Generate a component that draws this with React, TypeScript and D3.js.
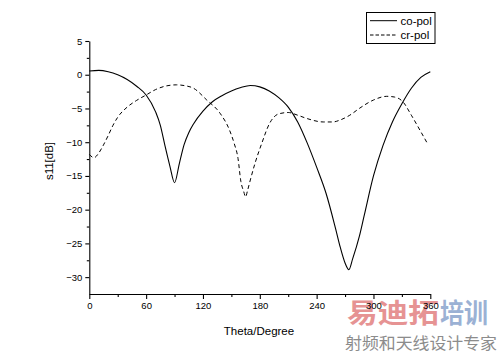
import * as d3 from 'd3';
import React from 'react';

// co-pol (solid)
const coTheta = [0, 10, 20, 30, 40, 50, 60, 70, 75, 80, 85, 90, 95, 100, 105, 110, 120, 130, 140, 150, 160, 170, 180, 190, 200, 210, 220, 230, 240, 250, 260, 265, 270, 274, 278, 285, 290, 300, 310, 320, 330, 340, 350, 360];
const coVals = [0.55, 0.65, 0.45, 0.0, -0.7, -1.7, -3.0, -5.5, -7.5, -10.6, -13.5, -16.0, -13.2, -10.4, -8.6, -7.3, -5.4, -4.0, -3.1, -2.4, -1.9, -1.6, -1.8, -2.4, -3.4, -4.8, -7.0, -10.1, -13.7, -17.6, -22.8, -25.6, -27.9, -28.9, -27.3, -24.0, -21.0, -15.0, -10.5, -7.0, -4.3, -2.0, -0.4, 0.45];

// cr-pol (dashed)
const crTheta = [0, 5, 10, 15, 20, 25, 30, 40, 50, 60, 70, 80, 92, 100, 110, 124, 138, 148, 153, 157, 160, 163, 165, 167, 170, 175, 182, 190, 200, 210, 220, 230, 247, 257, 265, 275, 285, 300, 314, 322, 331, 340, 349, 357];
const crVals = [-11.8, -12.3, -11.6, -10.4, -9.0, -7.5, -6.3, -4.8, -3.8, -3.0, -2.2, -1.7, -1.5, -1.6, -2.0, -3.75, -5.7, -8.2, -10.2, -12.4, -15.8, -17.3, -18.1, -17.2, -15.6, -13.1, -10.2, -7.3, -5.8, -5.6, -6.0, -6.5, -7.0, -7.0, -6.7, -6.0, -5.0, -3.75, -3.2, -3.3, -4.0, -6.0, -8.2, -10.2];

const xTicks = [0, 60, 120, 180, 240, 300, 360];
const xMinor = [30, 90, 150, 210, 270, 330];
const yTicks = [5, 0, -5, -10, -15, -20, -25, -30];
const yMinor = [2.5, -2.5, -7.5, -12.5, -17.5, -22.5, -27.5];
const legendNames = ['co-pol', 'cr-pol'];

const font = '"Liberation Sans", Arial, sans-serif';

export default function App() {
  const svgRef = React.useRef<SVGSVGElement>(null);

  React.useEffect(() => {
    if (svgRef.current == null) {
      return;
    }
    const svg = d3.select(svgRef.current);
    svg.selectAll('*').remove();

    const xScale = d3.scaleLinear().domain([0, 360]).range([89.3, 430.3]);
    const yScale = d3.scaleLinear().domain([-32.5, 5]).range([294, 41]);

    // watermark (behind the chart)
    svg
      .append('text')
      .attr('x', 347)
      .attr('y', 323)
      .attr('textLength', 92)
      .attr('lengthAdjust', 'spacingAndGlyphs')
      .style('font', 'bold 27px "Noto Sans CJK SC"')
      .attr('fill', '#e69393')
      .text('易迪拓');
    svg
      .append('text')
      .attr('x', 440)
      .attr('y', 323)
      .attr('textLength', 48)
      .attr('lengthAdjust', 'spacingAndGlyphs')
      .style('font', 'bold 27px "Noto Sans CJK SC"')
      .attr('fill', '#9bb1d4')
      .text('培训');
    svg
      .append('text')
      .attr('x', 345)
      .attr('y', 349)
      .attr('textLength', 152)
      .attr('lengthAdjust', 'spacingAndGlyphs')
      .style('font', '16px "Noto Sans CJK SC"')
      .attr('fill', '#8c8c8c')
      .text('射频和天线设计专家');

    // axes
    const xAxis = svg
      .append('g')
      .attr('transform', `translate(0, ${yScale(-32.5)})`)
      .call(d3.axisBottom(xScale).tickValues(xTicks).tickSize(5).tickSizeOuter(0).tickPadding(3));
    xAxis.style('font', `9.5px ${font}`);
    svg
      .append('g')
      .attr('transform', `translate(0, ${yScale(-32.5)})`)
      .call(d3.axisBottom(xScale).tickValues(xMinor).tickSize(3).tickFormat(() => ''))
      .call((g) => g.select('.domain').remove());

    const yAxis = svg
      .append('g')
      .attr('transform', `translate(${xScale(0)}, 0)`)
      .call(d3.axisLeft(yScale).tickValues(yTicks).tickSize(4).tickSizeOuter(0).tickPadding(3));
    yAxis.style('font', `9.5px ${font}`);
    svg
      .append('g')
      .attr('transform', `translate(${xScale(0)}, 0)`)
      .call(d3.axisLeft(yScale).tickValues(yMinor).tickSize(2.5).tickFormat(() => ''))
      .call((g) => g.select('.domain').remove());

    svg.selectAll('.domain, .tick line').attr('stroke', '#000').attr('stroke-width', 1.1);
    svg.selectAll('.tick text').attr('fill', '#000');

    // axis titles
    svg
      .append('text')
      .attr('x', 259)
      .attr('y', 335)
      .attr('text-anchor', 'middle')
      .style('font', `11.5px ${font}`)
      .text('Theta/Degree');
    svg
      .append('text')
      .attr('transform', `translate(53, 161) rotate(-90)`)
      .attr('text-anchor', 'middle')
      .style('font', `11.5px ${font}`)
      .text('s11[dB]');

    // lines
    const line = d3
      .line<[number, number]>()
      .x((d) => xScale(d[0]))
      .y((d) => yScale(d[1]))
      .curve(d3.curveMonotoneX);

    const coData = coTheta.map((t, i) => [t, coVals[i]] as [number, number]);
    const crData = crTheta.map((t, i) => [t, crVals[i]] as [number, number]);

    svg
      .append('path')
      .attr('d', line(coData))
      .attr('fill', 'none')
      .attr('stroke', '#000')
      .attr('stroke-width', 1.1);
    svg
      .append('path')
      .attr('d', line(crData))
      .attr('fill', 'none')
      .attr('stroke', '#000')
      .attr('stroke-width', 1)
      .attr('stroke-dasharray', '4,3');

    // legend
    const lg = svg.append('g');
    lg.append('rect')
      .attr('x', 366.5)
      .attr('y', 12.5)
      .attr('width', 68.5)
      .attr('height', 31)
      .attr('fill', '#fff')
      .attr('stroke', '#000')
      .attr('stroke-width', 1);
    legendNames.forEach((name, i) => {
      const cy = 20.7 + i * 14.3;
      lg.append('line')
        .attr('x1', 370)
        .attr('x2', 397)
        .attr('y1', cy)
        .attr('y2', cy)
        .attr('stroke', '#000')
        .attr('stroke-width', 1)
        .attr('stroke-dasharray', i === 0 ? null : '3.5,2');
      lg.append('text')
        .attr('x', 400.5)
        .attr('y', cy + 4)
        .style('font', `11.5px ${font}`)
        .text(name);
    });
  }, []);

  return (
    <svg
      ref={svgRef}
      width={500}
      height={353}
      style={{ position: 'absolute', left: 0, top: 0, background: '#fff' }}
    ></svg>
  );
}
